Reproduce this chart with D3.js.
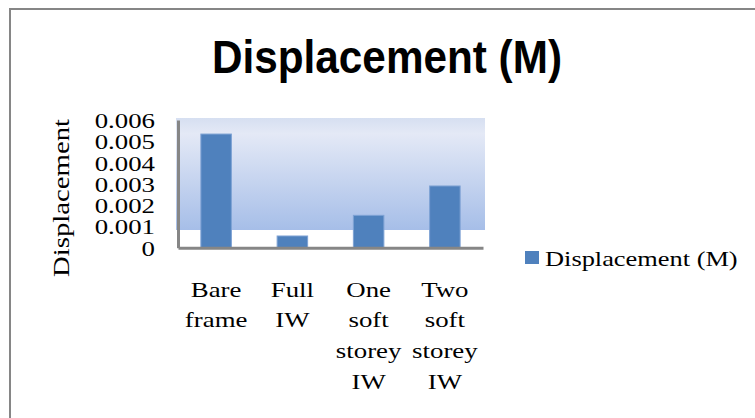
<!DOCTYPE html>
<html>
<head>
<meta charset="utf-8">
<script src="https://cdn.jsdelivr.net/npm/d3@7"></script>
<style>
  body { margin: 0; background: #fff; }
  text { font-family: "Liberation Serif", "Times New Roman", serif; fill: #000; }
</style>
</head>
<body>
<div id="here"></div>
<script>
// chart values
const categories = ["Bare frame", "Full IW", "One soft storey IW", "Two soft storey IW"];
const catLines = [["Bare", "frame"], ["Full", "IW"], ["One", "soft", "storey", "IW"], ["Two", "soft", "storey", "IW"]];
const displacement = [0.00534, 0.00055, 0.00152, 0.0029];
const yTicks = [0, 0.001, 0.002, 0.003, 0.004, 0.005, 0.006];
const seriesName = "Displacement (M)";

const width = 755, height = 418;
const plot = { left: 178, right: 483, top: 120, bottom: 247.7 };
const stretch = 1.22; // reference text is drawn wide

const svg = d3.select("#here").append("svg")
    .attr("width", width)
    .attr("height", height);

// outer chart border (runs off the right and bottom edge)
svg.append("rect")
    .attr("x", 10).attr("y", 9)
    .attr("width", 800).attr("height", 450)
    .attr("fill", "none")
    .attr("stroke", "#868686")
    .attr("stroke-width", 2);

// plot area gradient
const defs = svg.append("defs");
const grad = defs.append("linearGradient")
    .attr("id", "plotFill")
    .attr("x1", 0).attr("y1", 0).attr("x2", 0).attr("y2", 1);
grad.append("stop").attr("offset", "0%").attr("stop-color", "#d6dff1");
grad.append("stop").attr("offset", "14%").attr("stop-color", "#e4e9f6");
grad.append("stop").attr("offset", "100%").attr("stop-color", "#a6bee8");

svg.append("rect")
    .attr("x", 176).attr("y", 118)
    .attr("width", 309).attr("height", 112)
    .attr("fill", "url(#plotFill)");

const xScale = d3.scaleBand()
    .domain(categories)
    .range([plot.left, plot.right]);

const yScale = d3.scaleLinear()
    .domain([0, 0.006])
    .range([plot.bottom, plot.top]);

// bars
const barW = xScale.bandwidth() * 0.4;
svg.selectAll(".bar")
    .data(categories)
    .enter()
    .append("rect")
    .attr("class", "bar")
    .attr("x", function(d){ return xScale(d) + (xScale.bandwidth() - barW) / 2; })
    .attr("y", function(d, i){ return yScale(displacement[i]); })
    .attr("width", barW)
    .attr("height", function(d, i){ return plot.bottom - yScale(displacement[i]); })
    .attr("fill", "#4f81bd")
    .attr("stroke", "#7ea2d4")
    .attr("stroke-width", 1);

// y axis
const pad = 23;
const yAxis = svg.append("g")
    .attr("transform", `translate(${plot.left}, 0)`)
    .call(d3.axisLeft(yScale).tickValues(yTicks).tickSize(0).tickPadding(pad)
        .tickFormat(function(d){ return d === 0 ? "0" : d3.format(".3f")(d); }));
yAxis.select(".domain").attr("stroke", "#868686").attr("stroke-width", 3);
yAxis.selectAll("text")
    .style("font-family", '"Liberation Serif", "Times New Roman", serif')
    .style("font-size", "22px")
    .attr("x", -pad / stretch)
    .attr("dy", "0.34em")
    .attr("transform", `scale(${stretch},1)`);

// x axis
const xAxis = svg.append("g")
    .attr("transform", `translate(0, ${plot.bottom})`)
    .call(d3.axisBottom(xScale).tickSize(0).tickFormat(""));
xAxis.select(".domain").attr("stroke", "#868686").attr("stroke-width", 3);

// category labels (multi-line)
const catText = svg.selectAll(".cat")
    .data(categories)
    .enter()
    .append("text")
    .attr("class", "cat")
    .attr("text-anchor", "middle")
    .attr("font-size", "22px")
    .attr("transform", function(d){
        return `translate(${xScale(d) + xScale.bandwidth() / 2}, 297) scale(${stretch},1)`;
    });
catText.each(function(d, i){
    const t = d3.select(this);
    catLines[i].forEach(function(line, j){
        t.append("tspan")
            .attr("x", 0)
            .attr("dy", j === 0 ? 0 : 30.5)
            .text(line);
    });
});

// y axis title
svg.append("text")
    .attr("transform", "rotate(-90)")
    .attr("x", -198)
    .attr("y", 69)
    .attr("text-anchor", "middle")
    .attr("font-size", "23px")
    .attr("textLength", 158)
    .attr("lengthAdjust", "spacingAndGlyphs")
    .text("Displacement");

// chart title
svg.append("text")
    .attr("x", 387)
    .attr("y", 73)
    .attr("text-anchor", "middle")
    .style("font-family", '"Liberation Sans", Arial, sans-serif')
    .style("font-weight", "bold")
    .style("font-size", "46px")
    .attr("textLength", 350)
    .attr("lengthAdjust", "spacingAndGlyphs")
    .text(seriesName);

// legend
svg.append("rect")
    .attr("x", 525).attr("y", 251)
    .attr("width", 14).attr("height", 13)
    .attr("fill", "#4f81bd");
svg.append("text")
    .attr("transform", `translate(545, 266) scale(1.2,1)`)
    .attr("font-size", "22px")
    .text(seriesName);
</script>
</body>
</html>
